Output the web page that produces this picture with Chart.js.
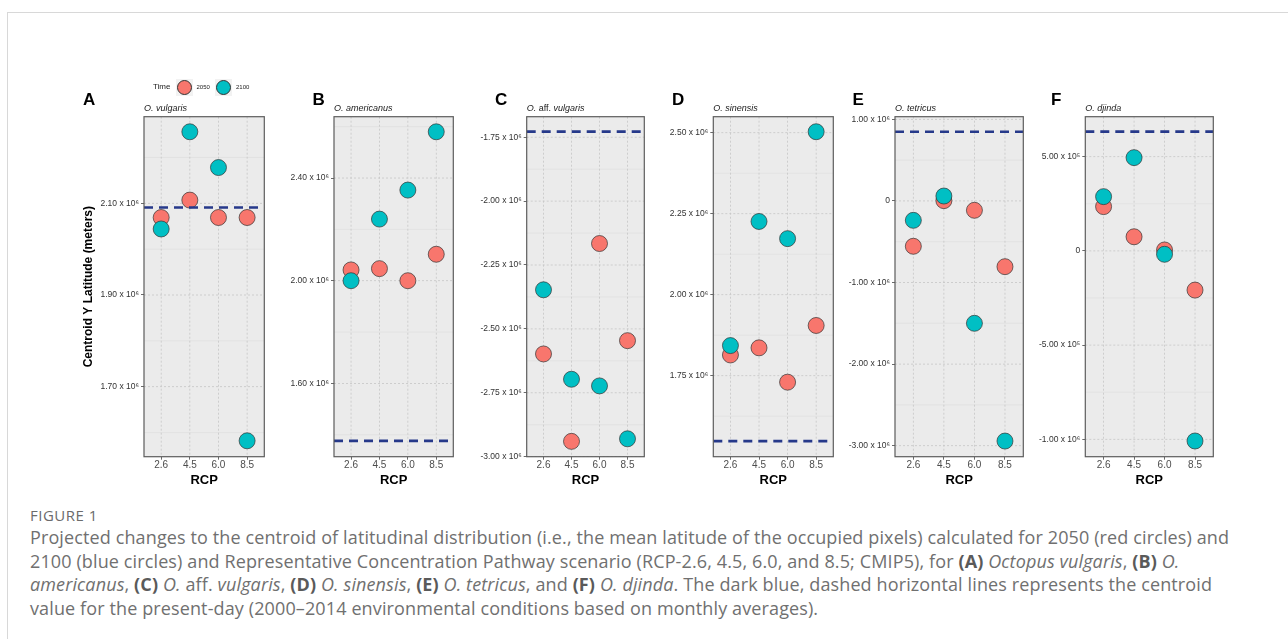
<!DOCTYPE html>
<html><head><meta charset="utf-8">
<script src="https://cdn.jsdelivr.net/npm/chart.js@4.4.1/dist/chart.umd.min.js"></script>
<style>
html,body{margin:0;padding:0;background:#fff;width:1288px;height:639px;overflow:hidden;position:relative;font-family:'Liberation Sans',Arial,sans-serif}
.abs{position:absolute;white-space:nowrap}
canvas{position:absolute}
#frame{position:absolute;left:7px;top:12px;width:1300px;height:700px;border-left:1.5px solid #d8d8d8;border-top:1.5px solid #d8d8d8}
.letter{font-weight:bold;font-size:17px;line-height:20px;color:#000}
.sp{font-style:italic;font-size:9px;line-height:10px;color:#1a1a1a}
.sp .up{font-style:normal}
.key{position:absolute;width:17px;height:17px;background:#F2F2F2}
.dot{position:absolute;width:15px;height:15px;border-radius:50%;box-sizing:border-box;border:0.7px solid #333}
.cap{position:absolute;white-space:nowrap;font-family:'Open Sans',sans-serif;font-size:18px;line-height:24px;letter-spacing:0.12px;color:#707070}
.cap b{font-weight:bold;color:#5a5a5a}
</style>
</head><body>
<div id="frame"></div>
<div id="root"></div>
<script>
// ---------------- data ----------------
const rcpLabels = ['2.6', '4.5', '6.0', '8.5'];
const panelLetters = ['A', 'B', 'C', 'D', 'E', 'F'];
const speciesNames = ['O. vulgaris', 'O. americanus', 'O. aff. vulgaris', 'O. sinensis', 'O. tetricus', 'O. djinda'];
const timeLabels = ['2050', '2100'];

const vulgaris2050 = [2.069e6, 2.107e6, 2.069e6, 2.069e6];
const vulgaris2100 = [2.044e6, 2.256e6, 2.178e6, 1.582e6];
const vulgarisPresent = 2.091e6;

const americanus2050 = [2.042e6, 2.047e6, 2.000e6, 2.103e6];
const americanus2100 = [2.000e6, 2.240e6, 2.353e6, 2.580e6];
const americanusPresent = 1.376e6;

const affVulgaris2050 = [-2.598e6, -2.940e6, -2.166e6, -2.546e6];
const affVulgaris2100 = [-2.347e6, -2.697e6, -2.723e6, -2.930e6];
const affVulgarisPresent = -1.728e6;

const sinensis2050 = [1.814e6, 1.836e6, 1.730e6, 1.905e6];
const sinensis2100 = [1.843e6, 2.226e6, 2.173e6, 2.503e6];
const sinensisPresent = 1.548e6;

const tetricus2050 = [-0.556e6, 0.003e6, -0.115e6, -0.806e6];
const tetricus2100 = [-0.238e6, 0.060e6, -1.500e6, -2.943e6];
const tetricusPresent = 0.848e6;

const djinda2050 = [0.235e6, 0.075e6, 0.005e6, -0.208e6];
const djinda2100 = [0.288e6, 0.495e6, -0.018e6, -1.009e6];
const djindaPresent = 0.633e6;

// y-axis tick values and labels
const vulgarisTicks = [1.70e6, 1.90e6, 2.10e6];
const vulgarisTickLabels = ['1.70 x 10⁶', '1.90 x 10⁶', '2.10 x 10⁶'];
const americanusTicks = [1.60e6, 2.00e6, 2.40e6];
const americanusTickLabels = ['1.60 x 10⁶', '2.00 x 10⁶', '2.40 x 10⁶'];
const affVulgarisTicks = [-3.00e6, -2.75e6, -2.50e6, -2.25e6, -2.00e6, -1.75e6];
const affVulgarisTickLabels = ['-3.00 x 10⁶', '-2.75 x 10⁶', '-2.50 x 10⁶', '-2.25 x 10⁶', '-2.00 x 10⁶', '-1.75 x 10⁶'];
const sinensisTicks = [1.75e6, 2.00e6, 2.25e6, 2.50e6];
const sinensisTickLabels = ['1.75 x 10⁶', '2.00 x 10⁶', '2.25 x 10⁶', '2.50 x 10⁶'];
const tetricusTicks = [-3.0e6, -2.0e6, -1.0e6, 0, 1.0e6];
const tetricusTickLabels = ['-3.00 x 10⁶', '-2.00 x 10⁶', '-1.00 x 10⁶', '0', '1.00 x 10⁶'];
const djindaTicks = [-1.0e6, -0.5e6, 0, 0.5e6];
const djindaTickLabels = ['-1.00 x 10⁶', '-5.00 x 10⁵', '0', '5.00 x 10⁵'];

// y-axis ranges
const vulgarisRange = [1.5473e6, 2.2889e6];
const americanusRange = [1.3145e6, 2.6388e6];
const affVulgarisRange = [-3.000e6, -1.6698e6];
const sinensisRange = [1.500e6, 2.5494e6];
const tetricusRange = [-3.1348e6, 1.032e6];
const djindaRange = [-1.0924e6, 0.7123e6];

const series2050 = [vulgaris2050, americanus2050, affVulgaris2050, sinensis2050, tetricus2050, djinda2050];
const series2100 = [vulgaris2100, americanus2100, affVulgaris2100, sinensis2100, tetricus2100, djinda2100];
const presentValues = [vulgarisPresent, americanusPresent, affVulgarisPresent, sinensisPresent, tetricusPresent, djindaPresent];
const tickValues = [vulgarisTicks, americanusTicks, affVulgarisTicks, sinensisTicks, tetricusTicks, djindaTicks];
const tickLabels = [vulgarisTickLabels, americanusTickLabels, affVulgarisTickLabels, sinensisTickLabels, tetricusTickLabels, djindaTickLabels];
const yRanges = [vulgarisRange, americanusRange, affVulgarisRange, sinensisRange, tetricusRange, djindaRange];

// ---------------- layout / style ----------------
const panelLeft = [144, 334, 526.7, 713.3, 895, 1085.3];
const panelRight = [269, 458, 648.7, 837.7, 1027.7, 1217.7];
const panelTop = 116.7, panelBottom = 456.7;
const letterX = [83, 312.5, 495, 672, 852.5, 1051];
const COL2050 = '#F8766D', COL2100 = '#00BFC4', COLREF = '#26398A';

Chart.defaults.font.family = "'Liberation Sans', Arial, sans-serif";
const root = document.getElementById('root');

function addDiv(html, cls, style) {
  const d = document.createElement('div');
  d.className = cls; d.innerHTML = html; d.style.cssText = style;
  root.appendChild(d); return d;
}

function makePanel(i) {
  const L = panelLeft[i], R = panelRight[i];
  const cLeft = Math.floor(L) - 70;
  const yAxisW = L - cLeft;
  const cTop = 100, cH = 400;
  const cW = Math.ceil(R) + 4 - cLeft;
  const padR = cW - (R - cLeft);
  const xAxisH = cH - (panelTop - cTop) - (panelBottom - panelTop);
  const canvas = document.createElement('canvas');
  canvas.width = cW; canvas.height = cH;
  canvas.style.left = cLeft + 'px'; canvas.style.top = cTop + 'px';
  canvas.style.width = cW + 'px'; canvas.style.height = cH + 'px';
  root.appendChild(canvas);

  const majors = tickValues[i];
  const step = majors[1] - majors[0];
  const minors = [];
  for (let k = -1; k < majors.length; k++) minors.push(majors[0] + (k + 0.5) * step);
  const xMin = 0.4, xMax = 4.6;

  const bgPlugin = {
    id: 'panelBg',
    beforeDatasetsDraw(chart) {
      const {ctx, chartArea: ca, scales: {x, y}} = chart;
      ctx.save();
      ctx.beginPath(); ctx.rect(ca.left, ca.top, ca.right - ca.left, ca.bottom - ca.top); ctx.clip();
      ctx.fillStyle = '#EBEBEB';
      ctx.fillRect(ca.left, ca.top, ca.right - ca.left, ca.bottom - ca.top);
      const hline = (v) => { const py = y.getPixelForValue(v); ctx.beginPath(); ctx.moveTo(ca.left, py); ctx.lineTo(ca.right, py); ctx.stroke(); };
      ctx.strokeStyle = '#DEDEDE'; ctx.lineWidth = 0.7; ctx.setLineDash([]);
      minors.forEach(hline);
      ctx.strokeStyle = '#C6C6C6'; ctx.lineWidth = 0.8; ctx.setLineDash([2, 2]);
      majors.forEach(hline);
      rcpLabels.forEach((_, k) => {
        const px = x.getPixelForValue(k + 1);
        ctx.beginPath(); ctx.moveTo(px, ca.top); ctx.lineTo(px, ca.bottom); ctx.stroke();
      });
      ctx.restore();
    },
    afterDraw(chart) {
      const {ctx, chartArea: ca} = chart;
      ctx.save();
      ctx.strokeStyle = '#5c5c5c'; ctx.lineWidth = 1.2;
      ctx.strokeRect(ca.left, ca.top, ca.right - ca.left, ca.bottom - ca.top);
      ctx.restore();
    }
  };

  const pts = (arr) => arr.map((v, k) => ({x: k + 1, y: v}));
  new Chart(canvas, {
    type: 'scatter',
    data: {
      datasets: [
        {label: 'present', type: 'line', data: [{x: xMin, y: presentValues[i]}, {x: xMax, y: presentValues[i]}],
         borderColor: COLREF, borderWidth: 2.6, borderDash: [9, 6], pointRadius: 0, showLine: true, fill: false},
        {label: timeLabels[1], data: pts(series2100[i]), backgroundColor: COL2100, borderColor: '#333', borderWidth: 0.7, pointRadius: 8, pointHoverRadius: 8},
        {label: timeLabels[0], data: pts(series2050[i]), backgroundColor: COL2050, borderColor: '#333', borderWidth: 0.7, pointRadius: 8, pointHoverRadius: 8}
      ]
    },
    options: {
      responsive: false, animation: false, devicePixelRatio: 1,
      layout: {padding: {top: panelTop - cTop, right: padR, left: 0, bottom: 0}},
      plugins: {legend: {display: false}, tooltip: {enabled: false}},
      events: [],
      scales: {
        x: {
          type: 'linear', min: xMin, max: xMax,
          afterBuildTicks: (ax) => { ax.ticks = rcpLabels.map((_, k) => ({value: k + 1})); },
          afterFit: (ax) => { ax.height = xAxisH; },
          ticks: {callback: (v, idx) => rcpLabels[idx], font: {size: 10}, color: '#4D4D4D', padding: 0, autoSkip: false, maxRotation: 0},
          grid: {display: true, drawOnChartArea: false, drawTicks: true, tickLength: 3, tickColor: '#444', tickWidth: 0.8},
          border: {display: false},
          title: {display: true, text: 'RCP', font: {size: 13, weight: 'bold'}, color: '#000', padding: {top: 0, bottom: 12.2}}
        },
        y: {
          type: 'linear', min: yRanges[i][0], max: yRanges[i][1],
          afterBuildTicks: (ax) => { ax.ticks = majors.map(v => ({value: v})); },
          afterFit: (ax) => { ax.width = yAxisW; },
          ticks: {callback: (v, idx) => tickLabels[i][idx], font: {size: 8.5}, color: '#333', padding: 2, autoSkip: false},
          grid: {display: true, drawOnChartArea: false, drawTicks: true, tickLength: 3, tickColor: '#444', tickWidth: 0.8},
          border: {display: false},
          title: {display: i === 0, text: 'Centroid Y Latitude (meters)', font: {size: 12, weight: 'bold'}, color: '#000', padding: {top: 7.6, bottom: 0}}
        }
      }
    },
    plugins: [bgPlugin]
  });

  // panel letter and species title
  addDiv(panelLetters[i], 'abs letter', `left:${letterX[i]}px;top:${90}px`);
  const name = speciesNames[i].replace('aff.', '<span class="up">aff.</span>');
  addDiv(name, 'abs sp', `left:${L}px;top:${102.7}px`);
}

for (let i = 0; i < 6; i++) makePanel(i);

// legend
addDiv('Time', 'abs', 'left:153px;top:82px;font-size:8px;line-height:10px;color:#222');
[[COL2050, 175.5, 196.5], [COL2100, 215, 236]].forEach((c, k) => {
  addDiv('', 'key', `left:${c[1]}px;top:79px`);
  addDiv('', 'dot', `left:${c[1] + 1}px;top:80px;background:${c[0]}`);
  addDiv(timeLabels[k], 'abs', `left:${c[2]}px;top:83.5px;font-size:6px;line-height:7px;color:#222`);
});

// caption
addDiv('FIGURE 1', 'cap', 'left:30px;top:503px;font-size:15px;letter-spacing:0.5px;color:#6b6b6b');
const capLines = [
  'Projected changes to the centroid of latitudinal distribution (i.e., the mean latitude of the occupied pixels) calculated for 2050 (red circles) and',
  '2100 (blue circles) and Representative Concentration Pathway scenario (RCP-2.6, 4.5, 6.0, and 8.5; CMIP5), for <b>(A)</b> <i>Octopus vulgaris</i>, <b>(B)</b> <i>O.</i>',
  '<i>americanus</i>, <b>(C)</b> <i>O.</i> aff. <i>vulgaris</i>, <b>(D)</b> <i>O. sinensis</i>, <b>(E)</b> <i>O. tetricus</i>, and <b>(F)</b> <i>O. djinda</i>. The dark blue, dashed horizontal lines represents the centroid',
  'value for the present-day (2000–2014 environmental conditions based on monthly averages).'
];
capLines.forEach((t, k) => addDiv(t, 'cap', `left:30px;top:${525 + k * 23.6}px`));
</script>
</body></html>
